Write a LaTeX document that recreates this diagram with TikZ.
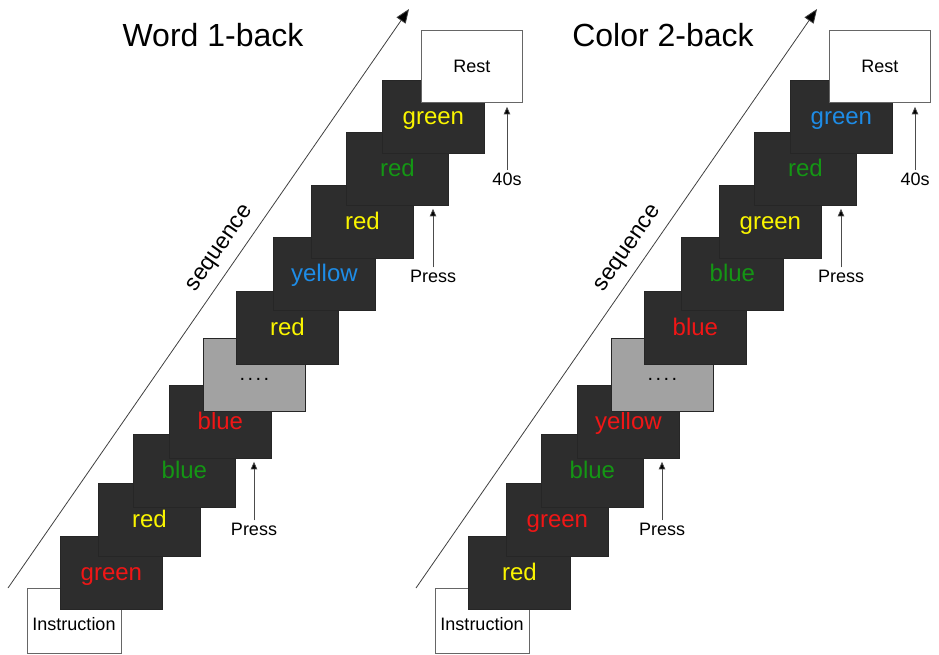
\documentclass[tikz,border=0pt]{standalone}
\usepackage{fontspec}
\setmainfont{Liberation Sans}
\usetikzlibrary{arrows.meta}
\definecolor{wred}{RGB}{240,22,22}
\definecolor{wyellow}{RGB}{250,245,0}
\definecolor{wgreen}{RGB}{20,150,20}
\definecolor{wblue}{RGB}{30,140,230}
\definecolor{cardbg}{RGB}{45,45,45}
\definecolor{greybg}{RGB}{162,162,162}
\newcommand\dotsfour{\raisebox{2.5pt}{\fontsize{20}{24}\selectfont .\kern2.4pt.\kern2.4pt.\kern2.4pt.}}
\newcommand\taskpanel[2]{%
\begin{scope}[xshift=#1]
  \coordinate (#2s0) at (8,588);
  \coordinate (#2s1) at (409,9);
  \draw[seqline] (#2s0) -- (#2s1);
  \node[font=\fontsize{23}{27}\selectfont, rotate=55.25, inner sep=0pt] (#2seq) at (221,249) {sequence};
  \node[whitebox, minimum width=94pt, minimum height=65pt] (#2ins) at (27,588) {};
  \node[small] (#2instext) at (74,630) {Instruction};
  \foreach \cx/\cy/\fc/\w/\c [count=\i] in \cardlist {
    \node[card, fill=\fc] (#2c\i) at (\cx,\cy) {};
    \node[word, text=\c] (#2w\i) at ([yshift=29pt]#2c\i.south) {\w};
  }
  \node[whitebox, minimum width=101pt, minimum height=72pt, font=\fontsize{18}{21}\selectfont] (#2rest) at (421,30) {Rest};
  \node[small] (#2p1) at (254,535) {Press};
  \node[small] (#2p2) at (433,282) {Press};
  \node[small] (#2p3) at (507,185) {40s};
  \draw[pressline, shorten <=2pt, shorten >=3pt] (#2p1.north) -- (#2p1.north |- #2c4.south);
  \draw[pressline, shorten <=2pt, shorten >=3pt] (#2p2.north) -- (#2p2.north |- #2c9.south);
  \draw[pressline, shorten <=2pt, shorten >=4pt] (#2p3.north) -- (#2p3.north |- #2rest.south);
\end{scope}}
\begin{document}
\begin{tikzpicture}[x=1pt,y=-1pt,
  card/.style={draw=black!85, line width=0.8pt, minimum width=102pt, minimum height=73pt, inner sep=0pt, anchor=north west},
  whitebox/.style={draw=black!60, fill=white, line width=0.8pt, inner sep=0pt, anchor=north west},
  word/.style={font=\fontsize{24}{28}\selectfont, anchor=base, inner sep=0pt},
  small/.style={font=\fontsize{18}{21}\selectfont, inner sep=0pt, anchor=base},
  title/.style={font=\fontsize{32}{38}\selectfont, anchor=base, inner sep=0pt},
  seqline/.style={draw=black!75, line width=0.8pt, -{Triangle[length=14pt,width=11pt,fill=black]}},
  pressline/.style={draw=black!70, line width=0.8pt, -{Triangle[length=7.5pt,width=6.5pt,fill=black]}}]
\useasboundingbox (0,0) rectangle (939,654);
\node[title] (t1) at (213,46) {Word 1-back};
\node[title] (t2) at (663,46) {Color 2-back};
\def\cardlist{60/536/cardbg/green/wred, 98/483/cardbg/red/wyellow, 133/434/cardbg/blue/wgreen, 169/385/cardbg/blue/wred, 203/338/greybg/\dotsfour/black, 236/291/cardbg/red/wyellow, 273/237/cardbg/yellow/wblue, 311/185/cardbg/red/wyellow, 346/132/cardbg/red/wgreen, 382/80/cardbg/green/wyellow}
\taskpanel{0pt}{L}
\def\cardlist{60/536/cardbg/red/wyellow, 98/483/cardbg/green/wred, 133/434/cardbg/blue/wgreen, 169/385/cardbg/yellow/wred, 203/338/greybg/\dotsfour/black, 236/291/cardbg/blue/wred, 273/237/cardbg/blue/wgreen, 311/185/cardbg/green/wyellow, 346/132/cardbg/red/wgreen, 382/80/cardbg/green/wblue}
\taskpanel{408pt}{R}
\end{tikzpicture}
\end{document}
